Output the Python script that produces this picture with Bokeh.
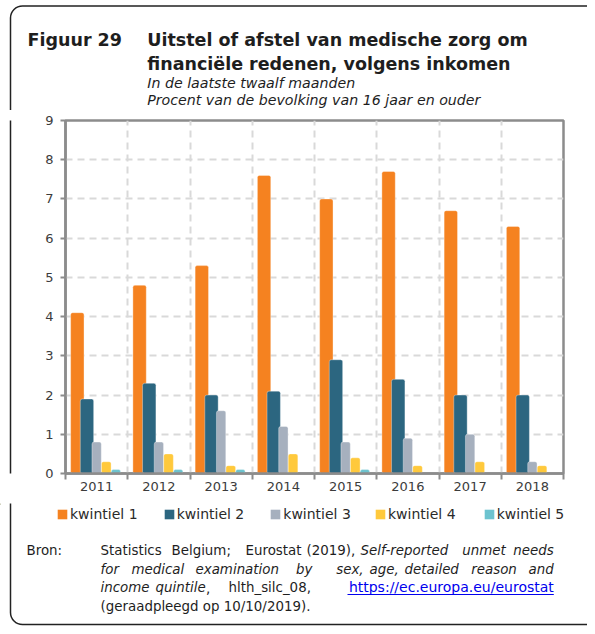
from bokeh.plotting import figure
from bokeh.layouts import column, row
from bokeh.models import (Range1d, FixedTicker, Label, Legend, LegendItem, ColumnDataSource)
from bokeh.transform import dodge
from bokeh.embed import file_html
from bokeh.resources import INLINE

# ---------------- data ----------------
years = ["2011", "2012", "2013", "2014", "2015", "2016", "2017", "2018"]
kwintiel_1 = [4.1, 4.8, 5.3, 7.6, 7.0, 7.7, 6.7, 6.3]
kwintiel_2 = [1.9, 2.3, 2.0, 2.1, 2.9, 2.4, 2.0, 2.0]
kwintiel_3 = [0.8, 0.8, 1.6, 1.2, 0.8, 0.9, 1.0, 0.3]
kwintiel_4 = [0.3, 0.5, 0.2, 0.5, 0.4, 0.2, 0.3, 0.2]
kwintiel_5 = [0.1, 0.1, 0.1, 0.0, 0.1, 0.0, 0.0, 0.0]
series_names = ["kwintiel 1", "kwintiel 2", "kwintiel 3", "kwintiel 4", "kwintiel 5"]
y_ticks = [0, 1, 2, 3, 4, 5, 6, 7, 8, 9]

colors = ["#F58220", "#2C6680", "#A6B0BE", "#FFC93C", "#6DC3CF"]
offsets = [-0.31, -0.155, 0.0, 0.155, 0.31]
widths = [0.215, 0.215, 0.15, 0.155, 0.15]

FONT = "DejaVu Sans"
TXT = "#1e1e1e"
AX = "#8c8c8c"
BOX = "#222222"
W = 587            # total width
H_HEAD = 110       # header: page y 0..110
CH_TOP, CH_FRAME, CH_BOT = 10, 353, 30
H_CHART = CH_TOP + CH_FRAME + CH_BOT   # chart: page y 110..503
H_FOOT = 626 - H_HEAD - H_CHART        # footer: page y 503..626
STRIP = 40
BASE_SHIFT = 0.36  # label baseline correction (fraction of font size)


def blank(width, height, y0, y1):
    f = figure(width=width, height=height, x_range=Range1d(0, width), y_range=Range1d(y1, y0),
               output_backend="svg", toolbar_location=None,
               min_border=0, min_border_left=0, min_border_right=0,
               min_border_top=0, min_border_bottom=0)
    f.axis.visible = False
    f.grid.visible = False
    f.outline_line_color = None
    f.background_fill_color = "white"
    f.border_fill_color = "white"
    return f


def lab(f, text, x, y, size, style="normal", color=TXT, align="left"):
    f.add_layout(Label(x=x, y=y - BASE_SHIFT * size, text=text, text_font=FONT,
                       text_font_size=f"{size}px", text_font_style=style, text_color=color,
                       text_align=align, text_baseline="alphabetic"))


# ---------------- header ----------------
head = blank(W, H_HEAD, 0, H_HEAD)
head.quad(left=[10], right=[620], top=[5.5], bottom=[400], fill_alpha=0,
          line_color=BOX, line_width=1.5, border_radius=12)
lab(head, "Figuur 29", 27, 45.7, 17.5, "bold")
lab(head, "Uitstel of afstel van medische zorg om", 146.7, 45.7, 17.5, "bold")
lab(head, "financiële redenen, volgens inkomen", 146.7, 70, 17.5, "bold")
lab(head, "In de laatste twaalf maanden", 146.7, 87.3, 14.2, "italic")
lab(head, "Procent van de bevolking van 16 jaar en ouder", 146.7, 104.3, 14.2, "italic")

# ---------------- left strip (box edge) ----------------
strip = blank(STRIP, H_CHART, H_HEAD, H_HEAD + H_CHART)
strip.segment(x0=[10], y0=[H_HEAD - 5], x1=[10], y1=[H_HEAD + H_CHART + 5],
              line_color=BOX, line_width=1.5)

# ---------------- chart ----------------
n = len(years)
centers = [i + 0.5 for i in range(n)]
src = ColumnDataSource(dict(x=centers, k1=kwintiel_1, k2=kwintiel_2, k3=kwintiel_3,
                            k4=kwintiel_4, k5=kwintiel_5))

p = figure(frame_width=498, frame_height=CH_FRAME,
           min_border_left=65 - STRIP, min_border_right=W - 563,
           min_border_top=CH_TOP, min_border_bottom=CH_BOT,
           x_range=Range1d(0, n), y_range=Range1d(0, 9),
           output_backend="svg", toolbar_location=None)
p.background_fill_color = "white"
p.border_fill_color = "white"
p.outline_line_color = AX
p.outline_line_width = 2.5

p.xgrid.ticker = FixedTicker(ticks=list(range(1, n)))
p.ygrid.ticker = FixedTicker(ticks=y_ticks[1:-1])
for g in (p.xgrid, p.ygrid):
    g.grid_line_color = "#d9d9d9"
    g.grid_line_width = 2
    g.grid_line_dash = "7 5"

p.xaxis.ticker = FixedTicker(ticks=centers, minor_ticks=list(range(0, n + 1)))
p.xaxis.major_label_overrides = {c: y for c, y in zip(centers, years)}
p.xaxis.major_tick_out = 0
p.xaxis.major_tick_in = 0
p.xaxis.minor_tick_out = 6
p.xaxis.minor_tick_in = 0
p.xaxis.minor_tick_line_color = AX
p.xaxis.minor_tick_line_width = 2
p.xaxis.major_label_standoff = 2

p.yaxis.ticker = FixedTicker(ticks=y_ticks)
p.yaxis.major_tick_out = 5
p.yaxis.major_tick_in = 0
p.yaxis.minor_tick_line_color = None
p.yaxis.major_label_standoff = 7

for ax in (p.xaxis, p.yaxis):
    ax.axis_line_color = AX
    ax.axis_line_width = 2.5
    ax.major_tick_line_color = AX
    ax.major_tick_line_width = 2
    ax.major_label_text_font = FONT
    ax.major_label_text_font_size = "13px"
    ax.major_label_text_color = "#3c3c3c"

for key, col, off, w in zip(["k1", "k2", "k3", "k4", "k5"], colors, offsets, widths):
    p.vbar(x=dodge("x", off, range=p.x_range), top=key, width=w, source=src,
           fill_color=col, line_color="white", line_alpha=0.35, line_width=1,
           border_radius=2)

# ---------------- footer (legend + source) ----------------
y0f = H_HEAD + H_CHART
foot = blank(W, H_FOOT, y0f, y0f + H_FOOT)
foot.quad(left=[10], right=[620], top=[0], bottom=[624], fill_alpha=0,
          line_color=BOX, line_width=1.5, border_radius=12)

# legend: one item per quintile, proxies kept outside the visible area
leg_x = [56, 162.7, 269.3, 374, 482.7]
for name, col, lx in zip(series_names, colors, leg_x):
    proxy = foot.vbar(x=[-100], top=[y0f], bottom=[y0f + 1], width=1,
                      fill_color=col, line_color=None)
    lg = Legend(items=[LegendItem(label=name, renderers=[proxy])],
                location=(lx, (y0f + H_FOOT) - 521.5),
                orientation="horizontal", padding=0, margin=0, spacing=0,
                glyph_width=12, glyph_height=12, label_height=12, label_standoff=2,
                label_text_font=FONT, label_text_font_size="14px", label_text_color="#2a2a2a",
                border_line_alpha=0, background_fill_alpha=0)
    foot.add_layout(lg)

SZ = 13.4
lab(foot, "Bron:", 26, 555, SZ)
row1 = [("Statistics", 100, "normal"), ("Belgium;", 171, "normal"), ("Eurostat", 245, "normal"),
        ("(2019),", 306, "normal"), ("Self-reported", 360, "italic"), ("unmet", 461.7, "italic")]
for t, x, s in row1:
    lab(foot, t, x, 555, SZ, s)
lab(foot, "needs", 553.3, 555, SZ, "italic", align="right")
row2 = [("for", 100), ("medical", 131), ("examination", 195), ("by", 295.5), ("sex,", 335.7),
        ("age,", 369), ("detailed", 404), ("reason", 470.7)]
for t, x in row2:
    lab(foot, t, x, 573.5, SZ, "italic")
lab(foot, "and", 553.3, 573.5, SZ, "italic", align="right")
lab(foot, "income", 100, 592, SZ, "italic")
lab(foot, "quintile", 155, 592, SZ, "italic")
lab(foot, ",", 205.5, 592, SZ)
lab(foot, "hlth_silc_08,", 228, 592, SZ)
lab(foot, "https://ec.europa.eu/eurostat", 553.3, 592, 14, color="#0000EE", align="right")
foot.segment(x0=[347], y0=[594], x1=[553.3], y1=[594], line_color="#0000EE", line_width=1.2)
lab(foot, "(geraadpleegd op 10/10/2019).", 100, 611, SZ)

layout = column(head, row(strip, p), foot, spacing=0)
open("out.html", "w").write(file_html(layout, INLINE))
